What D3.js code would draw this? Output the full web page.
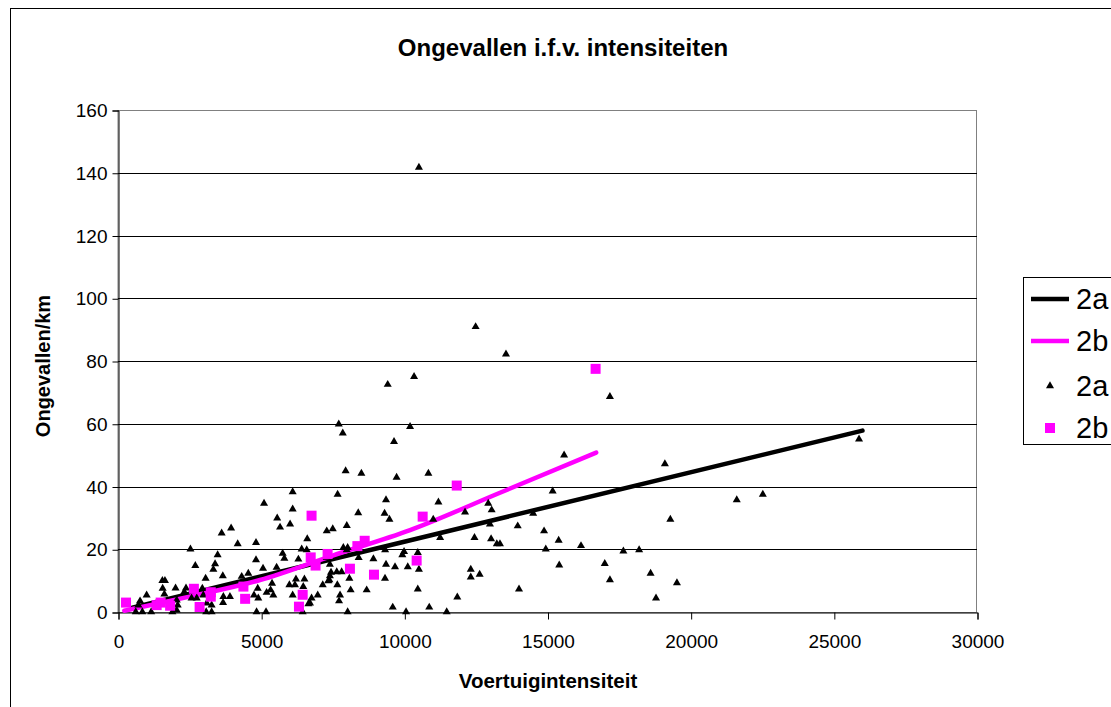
<!DOCTYPE html>
<html>
<head>
<meta charset="utf-8">
<script src="https://cdn.jsdelivr.net/npm/d3@7"></script>
<style>
  html, body { margin: 0; padding: 0; background: #fff; }
  svg { display: block; font-family: "Liberation Sans", Arial, sans-serif; }
</style>
</head>
<body>
<svg id="chart" width="1111" height="707"></svg>
<script>
// ---------------- data ----------------
const chartTitle = "Ongevallen i.f.v. intensiteiten";
const xTitle = "Voertuigintensiteit";
const yTitle = "Ongevallen/km";
const xTicks = [0, 5000, 10000, 15000, 20000, 25000, 30000];
const yTicks = [0, 20, 40, 60, 80, 100, 120, 140, 160];
const legendLabels = ["2a", "2b", "2a", "2b"];

// series 2a (triangles)
const s2aX = [5100,3620,3950,4180,4820,2530,2700,3480,3390,3330,4820,5065,3060,3660,4320,4550,1550,1640,1560,2010,
  2375,1000,1620,2315,2945,2980,3910,3680,3670,770,710,2050,2085,2570,2750,3100,3270,4900,4880,4750,
  620,850,1160,1900,3080,3270,4840,2050,
  7950,8500,9730,6100,7670,6100,9360,8390,9310,5560,9480,5660,6010,7990,7290,7500,6610,5750,5810,6415,
  6300,5540,7290,7400,7640,7810,7990,8405,8920,9360,9675,9930,9990,10120,9330,5380,5330,5425,5190,5985,
  6180,6215,6510,6100,6760,6705,6975,7150,7345,7400,7660,7755,7720,8080,8125,8685,9325,9595,5170,6450,
  8020,10060,6590,7870,8020,7440,7380,6650,6470,
  10840,11190,12120,12930,13050,15180,11010,13960,14500,12990,14880,11250,12450,13030,13230,13340,14940,10470,10510,12320,
  12320,12630,10470,11850,14005,10870,11480,
  17180,15580,19100,19290,15390,16170,17650,18200,15410,17000,17180,18600,19520,18790,
  25880,21610,22520,
  10510,12490,13550,10340,9420,7710,7850,10200,9640];
const s2aY = [34.6,25.1,26.7,21.7,22.1,20,14.8,18.2,15.3,13.6,16.6,13.9,10.7,11.5,11.3,12.3,10,10,7.5,7.6,
  7.6,5.4,5.7,6.4,7.5,5.4,4.9,4.9,3,3.5,2.2,3.8,2.2,4.4,4.4,2.8,2.2,4.4,7.5,5.4,
  0,0,0,0,0,0,0,0.6,
  45,44.2,42.9,38.3,37.5,32.8,35.7,31.6,31.4,29.9,29.5,27,28,27.5,25.8,26.5,23.3,18.7,17.1,20,
  16.8,14.2,17.4,15.2,12.8,12.8,19.8,17.3,16.9,15.2,14.4,18.2,19.2,14.4,19.8,9.1,7,5.4,6.2,8.6,
  8.6,10.5,10.5,5.4,4.4,2.8,5.4,8.6,9.9,11.5,8.6,5.4,3.5,10.7,7,7,10.7,1.5,0,0,
  0,0,19.8,20.5,20.5,12.6,10.2,2.6,8.1,
  44.2,35,31.8,34.6,32.5,38.5,29.5,27.4,31.4,28,25.8,23.7,23.7,23.3,21.7,21.7,20,18.9,13.6,13.6,
  11.1,12,7.3,4.7,7.3,1.5,0,
  68.6,50,47.2,29.5,22.8,21.1,19.4,19.8,14.9,15.4,10.2,12.3,9.3,4.4,
  55.1,35.7,37.5,
  141.7,90.9,82.2,75,72.5,59.9,57,59.1,54.3];

// series 2b (squares)
const s2bX = [280,1350,1490,1820,2650,2850,3240,3240,4380,4440,6320,6450,6730,6760,6900,7320,8100,8360,8615,8940,
  10430,10640,11830,16680];
const s2bY = [3,2.2,3,2,7.4,1.6,6.3,4.9,8.1,4.2,1.7,5.5,17.4,30.7,14.8,18.5,13.8,21,22.7,11.9,
  16.4,30.4,40.3,77.5];

// trend lines
const trend2aX = [500, 26000];
const trend2aY = [1.4, 57.8];
const trend2bX = [220, 2500, 4960, 7500, 10200, 13340, 16700];
const trend2bY = [0.4, 4.9, 10.2, 18.0, 26.1, 38.0, 50.8];

// ---------------- drawing ----------------
const svg = d3.select("#chart");
const plot = { left: 118, top: 110, right: 977, bottom: 612 };
const x = d3.scaleLinear().domain([0, 30000]).range([plot.left, plot.right]);
const y = d3.scaleLinear().domain([0, 160]).range([plot.bottom, plot.top]);

// outer chart border
svg.append("rect").attr("x", 10.5).attr("y", 8.5).attr("width", 1130).attr("height", 720)
  .attr("fill", "#fff").attr("stroke", "#000").attr("stroke-width", 1);

// title
svg.append("text").attr("x", 563).attr("y", 56).attr("text-anchor", "middle")
  .attr("font-size", 24).attr("font-weight", "bold").text(chartTitle);

// plot area border (gray)
svg.append("rect").attr("x", plot.left).attr("y", plot.top + 0.5)
  .attr("width", plot.right - plot.left - 0.5).attr("height", plot.bottom - plot.top)
  .attr("fill", "#fff").attr("stroke", "#808080").attr("stroke-width", 1);

// gridlines
svg.append("g").selectAll("line").data(yTicks.filter(d => d > 0 && d < 160)).join("line")
  .attr("x1", plot.left).attr("x2", plot.right)
  .attr("y1", d => Math.round(y(d)) + 0.5).attr("y2", d => Math.round(y(d)) + 0.5)
  .attr("stroke", "#000").attr("stroke-width", 1);

// axes
const yAxis = svg.append("g").attr("transform", `translate(${plot.left + 0.5},0.5)`)
  .call(d3.axisLeft(y).tickValues(yTicks).tickFormat(d3.format("d")).tickSize(6).tickPadding(5));
const xAxis = svg.append("g").attr("transform", `translate(0.5,${plot.bottom + 0.5})`)
  .call(d3.axisBottom(x).tickValues(xTicks).tickFormat(d3.format("d")).tickSize(7).tickPadding(15));
[yAxis, xAxis].forEach(g => {
  g.select(".domain").attr("stroke", "#000");
  g.selectAll(".tick line").attr("stroke", "#000");
  g.selectAll("text").attr("font-size", 19).attr("fill", "#000")
    .attr("font-family", "'Liberation Sans', Arial, sans-serif");
});

// axis titles
svg.append("text").attr("x", 548).attr("y", 688).attr("text-anchor", "middle")
  .attr("font-size", 20.5).attr("font-weight", "bold").text(xTitle);
svg.append("text").attr("transform", "translate(50,366) rotate(-90)").attr("text-anchor", "middle")
  .attr("font-size", 20).attr("font-weight", "bold").text(yTitle);

// trend lines
const lineGen = d3.line().x(d => x(d[0])).y(d => y(d[1]));
svg.append("path").datum(d3.zip(trend2aX, trend2aY)).attr("d", lineGen)
  .attr("fill", "none").attr("stroke", "#000").attr("stroke-width", 4.5).attr("stroke-linecap", "round");
svg.append("path").datum(d3.zip(trend2bX, trend2bY)).attr("d", d3.line().curve(d3.curveMonotoneX).x(d => x(d[0])).y(d => y(d[1])))
  .attr("fill", "none").attr("stroke", "#ff00ff").attr("stroke-width", 4.5).attr("stroke-linecap", "round");

// points 2a (triangles)
const tri = d3.symbol().type(d3.symbolTriangle).size(28);
svg.append("g").selectAll("path").data(d3.zip(s2aX, s2aY)).join("path")
  .attr("d", tri).attr("transform", d => `translate(${x(d[0])},${y(d[1])})`).attr("fill", "#000");

// points 2b (squares)
const sq = 10;
svg.append("g").selectAll("rect").data(d3.zip(s2bX, s2bY)).join("rect")
  .attr("x", d => x(d[0]) - sq / 2).attr("y", d => y(d[1]) - sq / 2)
  .attr("width", sq).attr("height", sq).attr("fill", "#ff00ff");

// legend
const lg = svg.append("g");
lg.append("rect").attr("x", 1023.5).attr("y", 277.5).attr("width", 120).attr("height", 167)
  .attr("fill", "#fff").attr("stroke", "#000").attr("stroke-width", 1);
const ly = [299, 341, 386, 428];
lg.append("line").attr("x1", 1031).attr("x2", 1069).attr("y1", ly[0]).attr("y2", ly[0])
  .attr("stroke", "#000").attr("stroke-width", 4.5);
lg.append("line").attr("x1", 1031).attr("x2", 1069).attr("y1", ly[1]).attr("y2", ly[1])
  .attr("stroke", "#ff00ff").attr("stroke-width", 4.5);
lg.append("path").attr("d", tri).attr("transform", `translate(1050,${ly[2]})`).attr("fill", "#000");
lg.append("rect").attr("x", 1050 - sq / 2).attr("y", ly[3] - sq / 2).attr("width", sq).attr("height", sq).attr("fill", "#ff00ff");
lg.selectAll("text.lab").data(legendLabels).join("text").attr("class", "lab")
  .attr("x", 1076).attr("y", (d, i) => ly[i]).attr("dy", "0.36em")
  .attr("font-size", 29).attr("fill", "#000").text(d => d);
</script>
</body>
</html>
